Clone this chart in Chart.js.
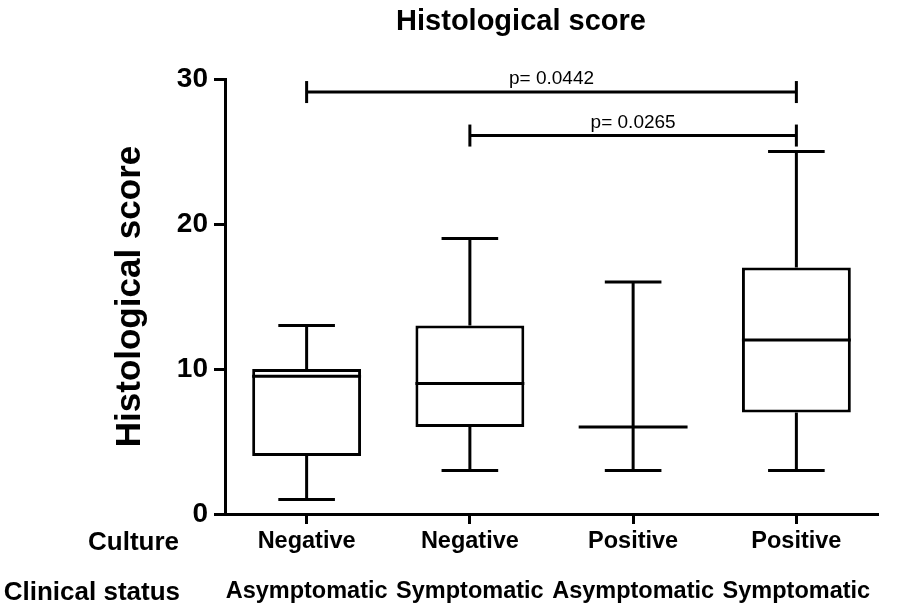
<!DOCTYPE html>
<html>
<head>
<meta charset="utf-8">
<script src="https://cdn.jsdelivr.net/npm/chart.js@4.4.0/dist/chart.umd.min.js"></script>
<style>
  html, body { margin: 0; padding: 0; background: #fff; }
</style>
</head>
<body>
<canvas id="chart" width="898" height="610"></canvas>
<script>
const culture = ["Negative", "Negative", "Positive", "Positive"];
const clinical = ["Asymptomatic", "Symptomatic", "Asymptomatic", "Symptomatic"];
const mins = [1, 3, 3, 3];
const q1s = [4, 6, 6, 7];
const medians = [9.5, 9, 6, 12];
const q3s = [10, 13, 6, 17];
const maxs = [13, 19, 16, 25];
const yTicks = [0, 10, 20, 30];
const pairs = [[0, 3], [1, 3]];
const pairLevels = [29.1, 26.1];
const pValues = ["p= 0.0442", "p= 0.0265"];

const FONT = "'Liberation Sans', Arial, sans-serif";

function seg(ctx, x1, y1, x2, y2) {
  ctx.beginPath();
  ctx.moveTo(x1, y1);
  ctx.lineTo(x2, y2);
  ctx.stroke();
}

const boxPlugin = {
  id: "boxExtras",
  afterDatasetsDraw(chart) {
    const { ctx, scales: { x, y } } = chart;
    const meta = chart.getDatasetMeta(0);
    ctx.save();
    ctx.strokeStyle = "#000";
    ctx.lineWidth = 3;
    ctx.lineCap = "butt";
    meta.data.forEach((bar, i) => {
      const cx = x.getPixelForValue(i);
      const half = bar.width / 2;
      const cap = half * 0.52;
      // whiskers
      seg(ctx, cx, y.getPixelForValue(q3s[i]), cx, y.getPixelForValue(maxs[i]));
      seg(ctx, cx, y.getPixelForValue(q1s[i]), cx, y.getPixelForValue(mins[i]));
      seg(ctx, cx - cap, y.getPixelForValue(maxs[i]), cx + cap, y.getPixelForValue(maxs[i]));
      seg(ctx, cx - cap, y.getPixelForValue(mins[i]), cx + cap, y.getPixelForValue(mins[i]));
      // median
      seg(ctx, cx - half, y.getPixelForValue(medians[i]), cx + half, y.getPixelForValue(medians[i]));
    });
    ctx.restore();
  },
  afterDraw(chart) {
    const { ctx, scales: { x, y } } = chart;
    ctx.save();
    ctx.strokeStyle = "#000";
    ctx.fillStyle = "#000";
    ctx.lineWidth = 3;

    // significance brackets
    pairs.forEach((p, k) => {
      const x1 = x.getPixelForValue(p[0]);
      const x2 = x.getPixelForValue(p[1]);
      const py = y.getPixelForValue(pairLevels[k]);
      seg(ctx, x1, py, x2, py);
      seg(ctx, x1, py - 11, x1, py + 11);
      seg(ctx, x2, py - 11, x2, py + 11);
      ctx.font = "19px " + FONT;
      ctx.textAlign = "center";
      ctx.textBaseline = "alphabetic";
      ctx.fillText(pValues[k], (x1 + x2) / 2, py - 8);
    });

    // main title
    ctx.font = "bold 29px " + FONT;
    ctx.textAlign = "center";
    ctx.textBaseline = "alphabetic";
    ctx.fillText("Histological score", 521, 30);

    // row headers
    ctx.font = "bold 26px " + FONT;
    ctx.textAlign = "right";
    ctx.textBaseline = "middle";
    ctx.fillText("Culture", 179, 543);
    ctx.fillText("Clinical status", 180, 593);
    ctx.restore();
  }
};

new Chart(document.getElementById("chart"), {
  type: "bar",
  data: {
    labels: culture.map((c, i) => [c, clinical[i]]),
    datasets: [{
      data: q1s.map((q, i) => [q, q3s[i]]),
      backgroundColor: "#fff",
      borderColor: "#000",
      borderWidth: 3,
      borderSkipped: false,
      barPercentage: 0.667,
      categoryPercentage: 1
    }]
  },
  options: {
    responsive: false,
    devicePixelRatio: 1,
    animation: false,
    layout: { padding: { left: 100, right: 20, top: 79, bottom: 0 } },
    plugins: {
      legend: { display: false },
      tooltip: { enabled: false }
    },
    scales: {
      x: {
        offset: true,
        grid: { display: true, drawOnChartArea: false, offset: false, tickLength: 10, tickWidth: 3, color: "#000" },
        border: { display: true, width: 3, color: "#000" },
        ticks: {
          color: "#000",
          padding: -7,
          maxRotation: 0,
          autoSkip: false,
          font: { family: FONT, size: 23.5, weight: "bold", lineHeight: 50 / 23.5 }
        },
        afterFit: s => { s.height = 96; }
      },
      y: {
        min: 0,
        max: 30,
        afterBuildTicks: s => { s.ticks = yTicks.map(v => ({ value: v })); },
        grid: { display: true, drawOnChartArea: false, tickLength: 11, tickWidth: 3, color: "#000" },
        border: { display: true, width: 3, color: "#000" },
        ticks: {
          color: "#000",
          padding: 6,
          font: { family: FONT, size: 28, weight: "bold" }
        },
        title: {
          display: true,
          text: "Histological score",
          color: "#000",
          padding: { top: 9, bottom: 0 },
          font: { family: FONT, size: 35, weight: "bold" }
        },
        afterFit: s => { s.width = 125; }
      }
    }
  },
  plugins: [boxPlugin]
});
</script>
</body>
</html>
